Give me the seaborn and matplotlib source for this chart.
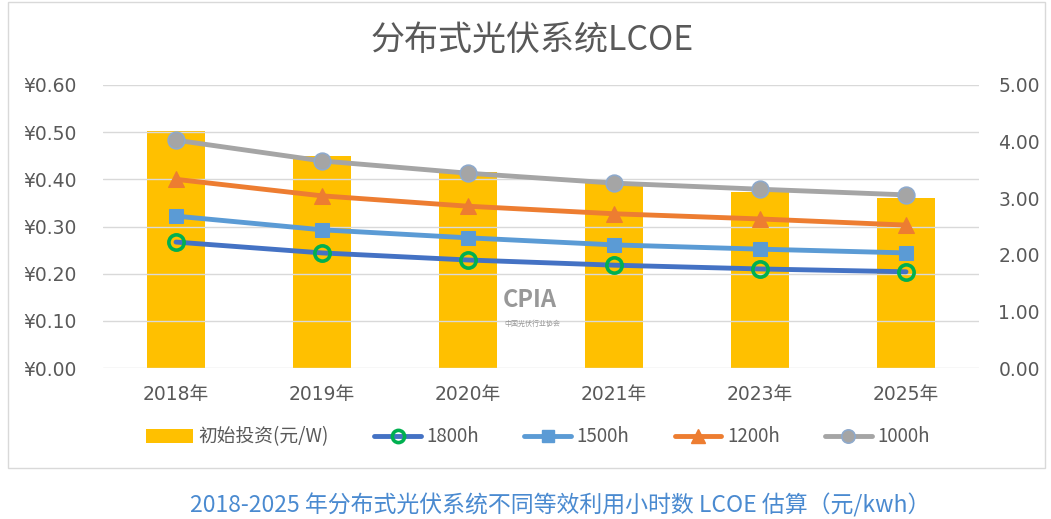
import matplotlib
matplotlib.use("Agg")
import matplotlib.pyplot as plt
import seaborn as sns
import pandas as pd
from matplotlib.lines import Line2D
from matplotlib.patches import Patch, Rectangle

# ---- data ----
years = ["2018年", "2019年", "2020年", "2021年", "2023年", "2025年"]
invest = [4.18, 3.74, 3.46, 3.27, 3.11, 3.00]          # 初始投资 (元/W), right axis
lcoe_1800 = [0.267, 0.244, 0.229, 0.218, 0.210, 0.204]
lcoe_1500 = [0.322, 0.293, 0.276, 0.261, 0.252, 0.244]
lcoe_1200 = [0.400, 0.365, 0.343, 0.327, 0.316, 0.303]
lcoe_1000 = [0.483, 0.439, 0.413, 0.392, 0.379, 0.367]
left_ticks = [0.0, 0.1, 0.2, 0.3, 0.4, 0.5, 0.6]
right_ticks = [0, 1, 2, 3, 4, 5]
title = "分布式光伏系统LCOE"
caption = "2018-2025 年分布式光伏系统不同等效利用小时数 LCOE 估算（元/kwh）"
legend_labels = ["初始投资(元/W)", "1800h", "1500h", "1200h", "1000h"]

sns.set_theme(style="white")
plt.rcParams["font.family"] = ["Noto Sans CJK SC", "DejaVu Sans"]
num_family = ["DejaVu Sans", "Noto Sans CJK SC"]

W, H = 1051, 519
fig = plt.figure(figsize=(W / 100, H / 100), dpi=100)
fig.patch.set_facecolor("white")

# chart border
fig.patches.append(Rectangle((8 / W, 1 - 468 / H), (1045 - 8) / W, 466 / H,
                             transform=fig.transFigure, fill=False,
                             edgecolor="#D9D9D9", linewidth=1))

ax = fig.add_axes([103 / W, 1 - 368 / H, 876 / W, 283 / H])
ax2 = ax.twinx()

tick_col = "#595959"

# bars on the right axis
df_bar = pd.DataFrame({"year": years, "invest": invest})
sns.barplot(data=df_bar, x="year", y="invest", ax=ax2, color="#FFC000",
            saturation=1, width=0.4, edgecolor="none")
ax2.set_ylim(0, 5)
ax2.set_yticks(right_ticks)
ax2.set_yticklabels([f"{v:.2f}" for v in right_ticks])
ax2.set_ylabel("")
ax2.set_xlabel("")

# lines on the left axis (drawn above bars)
ax.set_zorder(ax2.get_zorder() + 1)
ax.patch.set_visible(False)

series = [
    (lcoe_1800, "#4472C4", dict(marker="o", markersize=11, markerfacecolor="none",
                                 markeredgecolor="#00B050", markeredgewidth=2.6)),
    (lcoe_1500, "#5B9BD5", dict(marker="s", markersize=10, markerfacecolor="#5B9BD5",
                                 markeredgecolor="#5B9BD5")),
    (lcoe_1200, "#ED7D31", dict(marker="^", markersize=12, markerfacecolor="#ED7D31",
                                 markeredgecolor="#ED7D31")),
    (lcoe_1000, "#A5A5A5", dict(marker="o", markersize=12, markerfacecolor="#A5A5A5",
                                 markeredgecolor="#8FAACC", markeredgewidth=1.2)),
]
for vals, col, mk in series:
    sns.lineplot(x=years, y=vals, ax=ax, color=col, linewidth=3.5, sort=False, **mk)

ax.set_xlim(-0.5, 5.5)
ax2.set_xlim(-0.5, 5.5)
ax.set_ylim(0, 0.6)
ax.set_yticks(left_ticks)
ax.set_yticklabels([f"¥{v:.2f}" for v in left_ticks])
ax.yaxis.grid(True, color="#D9D9D9", linewidth=1)
ax.set_axisbelow(True)
ax2.grid(False)
ax.set_xlabel("")
ax.set_ylabel("")

for a in (ax, ax2):
    for s in a.spines.values():
        s.set_visible(False)
    a.tick_params(axis="both", length=0, colors=tick_col, labelsize=13.5)

ax.tick_params(axis="y", pad=19)
ax2.tick_params(axis="y", pad=14)
ax.tick_params(axis="x", pad=12)
ax2.tick_params(axis="x", labelbottom=False)
ax.set_xticks(range(len(years)))
ax.set_xticklabels(years)
for lab in ax.get_yticklabels() + ax2.get_yticklabels() + ax.get_xticklabels():
    lab.set_family(num_family)

# watermark
fig.text(530 / W, 1 - 300 / H, "CPIA", ha="center", va="center", fontsize=17,
         fontweight="bold", color="#7F7F7F", alpha=0.8)
fig.text(532 / W, 1 - 324 / H, "中国光伏行业协会", ha="center", va="center",
         fontsize=5, color="#7F7F7F", alpha=0.8)

fig.text(532 / W, 1 - 40 / H, title, ha="center", va="center", fontsize=24.5,
         color="#595959")

handles = [Patch(facecolor="#FFC000", edgecolor="none")]
for vals, col, mk in series:
    mk_small = dict(mk)
    mk_small["markersize"] = mk["markersize"] * 0.8
    handles.append(Line2D([0], [0], color=col, linewidth=3.5, **mk_small))
leg = fig.legend(handles, legend_labels, loc="center", bbox_to_anchor=(538 / W, 1 - 437 / H),
                 ncol=5, frameon=False, fontsize=13.5, handlelength=2.5,
                 columnspacing=2.4, handletextpad=0.3)
for t in leg.get_texts():
    t.set_color(tick_col)

fig.text(560 / W, 1 - 505 / H, caption, ha="center", va="center", fontsize=16.5,
         color="#4A8AD0")

fig.savefig("out.png", dpi=100)
